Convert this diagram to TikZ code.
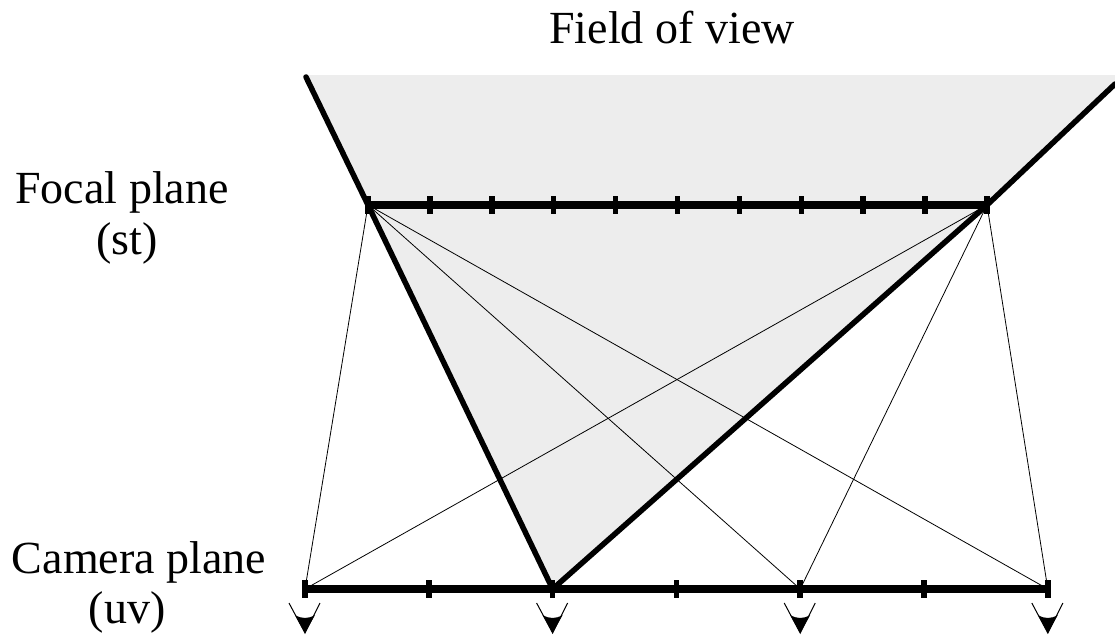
\documentclass[tikz,border=0pt]{standalone}
\usepackage{fontspec}
\setmainfont{Liberation Serif}
\begin{document}
\begin{tikzpicture}[x=1pt,y=-1pt,
  plane/.style={line width=8pt},
  fov/.style={line width=5.5pt, line cap=round},
  ray/.style={line width=0.8pt},
  tickmark/.style={line width=5.5pt},
  vline/.style={line width=1pt},
  lbl/.style={font=\fontsize{46}{51}\selectfont, inner sep=0pt, anchor=base}]
\useasboundingbox (0,0) rectangle (1115,635);
% points
\foreach \i in {0,...,10} {\coordinate (f\i) at ({368+61.9*\i},205);}
\foreach \i in {0,...,6} {\coordinate (c\i) at ({305+123.8*\i},589);}
\coordinate (ltop) at (306,77);
\coordinate (rtop) at (1115,84);
% field of view fill
\fill[black!7] (ltop) -- (305,75) -- (1115,75) -- (rtop) -- (f10) -- (c2) -- (f0) -- cycle;
% rays
\foreach \j in {0,4,6} {
  \draw[ray] (f0) -- (c\j);
  \draw[ray] (f10) -- (c\j);
}
% field of view edges
\draw[fov] (ltop) -- (f0) -- (c2);
\draw[fov] (c2) -- (f10) -- (rtop);
% planes
\draw[plane] (f0) -- (f10);
\draw[plane] (c0) -- (c6);
\foreach \i in {0,...,10} {\draw[tickmark] ([yshift=9pt]f\i) -- ([yshift=-9pt]f\i);}
\foreach \i in {0,...,6} {\draw[tickmark] ([yshift=9pt]c\i) -- ([yshift=-9pt]c\i);}
% camera icons
\foreach \j in {0,2,4,6} {
  \draw[vline] ([shift={(-16,14)}]c\j) -- ([shift={(0,44)}]c\j) -- ([shift={(15,14)}]c\j);
  \fill ([shift={(-10,26)}]c\j) .. controls ([shift={(-3,30)}]c\j) and ([shift={(3,30)}]c\j) .. ([shift={(10,26)}]c\j) -- ([shift={(0,44)}]c\j) -- cycle;
}
% labels
\node[lbl] (fov) at (672,43) {Field of view};
\node[lbl] (fp) at (122,203) {Focal plane};
\node[lbl] (st) at (127,254) {(st)};
\node[lbl] (cp) at (139,573) {Camera plane};
\node[lbl] (uv) at (127,623) {(uv)};
\end{tikzpicture}
\end{document}
